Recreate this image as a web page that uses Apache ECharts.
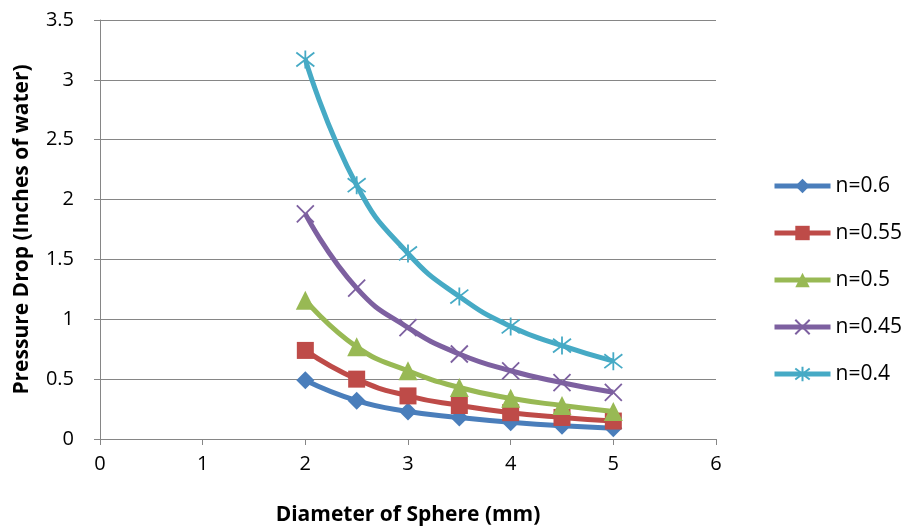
<!DOCTYPE html>
<html>
<head>
<meta charset="utf-8">
<script src="https://cdn.jsdelivr.net/npm/echarts@6/dist/echarts.min.js"></script>
<style>html,body{margin:0;padding:0;background:#fff}#c{width:905px;height:531px}</style>
</head>
<body>
<div id="c"></div>
<script>
const diameters = [2, 2.5, 3, 3.5, 4, 4.5, 5];
const n060 = [0.49, 0.32, 0.23, 0.18, 0.14, 0.11, 0.09];
const n055 = [0.74, 0.50, 0.36, 0.28, 0.22, 0.18, 0.15];
const n050 = [1.16, 0.77, 0.57, 0.43, 0.34, 0.28, 0.23];
const n045 = [1.88, 1.26, 0.93, 0.71, 0.57, 0.47, 0.39];
const n040 = [3.17, 2.12, 1.55, 1.19, 0.94, 0.78, 0.65];
const seriesNames = ['n=0.6', 'n=0.55', 'n=0.5', 'n=0.45', 'n=0.4'];
const seriesValues = [n060, n055, n050, n045, n040];
const colors = ['#4A7EBB', '#BE4B48', '#98B954', '#7D60A0', '#46AAC5'];
const symbols = ['diamond', 'rect', 'triangle',
  'path://M0,0L10,10M10,0L0,10',
  'path://M0,0L10,10M10,0L0,10M5,-1.5L5,11.5'];
const symbolSizes = [18, 17, 19, 17, 18];

const font = '"Open Sans", "Noto Sans", sans-serif';
const series = seriesNames.map((name, i) => {
  const stroke = i >= 3;
  return {
    name,
    type: 'line',
    smooth: 0.5,
    data: diameters.map((d, k) => [d, seriesValues[i][k]]),
    symbol: symbols[i],
    symbolSize: symbolSizes[i],
    showAllSymbol: true,
    lineStyle: { color: colors[i], width: 5 },
    itemStyle: stroke
      ? { color: 'rgba(0,0,0,0)', borderColor: colors[i], borderWidth: 1.8 }
      : { color: colors[i], borderWidth: 0 },
    emphasis: { disabled: true },
    z: 2 + i
  };
});

const chart = echarts.init(document.getElementById('c'), null, { renderer: 'canvas' });
chart.setOption({
  animation: false,
  backgroundColor: '#fff',
  grid: { left: 100, right: 189, top: 20, bottom: 90 },
  xAxis: {
    type: 'value', min: 0, max: 6, interval: 1,
    name: 'Diameter of Sphere (mm)', nameLocation: 'middle', nameGap: 66,
    nameTextStyle: { fontFamily: font, fontWeight: 'bold', fontSize: 21, color: '#000' },
    axisLine: { show: true, lineStyle: { color: '#868686', width: 1 } },
    axisTick: { show: true, length: 6, lineStyle: { color: '#868686' } },
    axisLabel: { fontFamily: font, fontSize: 20, color: '#000', margin: 15 },
    splitLine: { show: false }
  },
  yAxis: {
    type: 'value', min: 0, max: 3.5, interval: 0.5,
    name: 'Pressure Drop (Inches of water)', nameLocation: 'middle', nameGap: 67,
    nameTextStyle: { fontFamily: font, fontWeight: 'bold', fontSize: 21, color: '#000' },
    axisLine: { show: true, lineStyle: { color: '#868686', width: 1 } },
    axisTick: { show: true, length: 6, lineStyle: { color: '#868686' } },
    axisLabel: { fontFamily: font, fontSize: 20, color: '#000', margin: 26 },
    splitLine: { show: true, lineStyle: { color: '#868686', width: 1 } }
  },
  legend: {
    orient: 'vertical',
    left: 767, top: 169,
    itemWidth: 56, itemHeight: 18, itemGap: 23, itemTextGap: 2,
    lineStyle: { width: 5 },
    textStyle: { fontFamily: font, fontSize: 21, color: '#000', lineHeight: 24 },
    data: seriesNames
  },
  series
});
</script>
</body>
</html>
